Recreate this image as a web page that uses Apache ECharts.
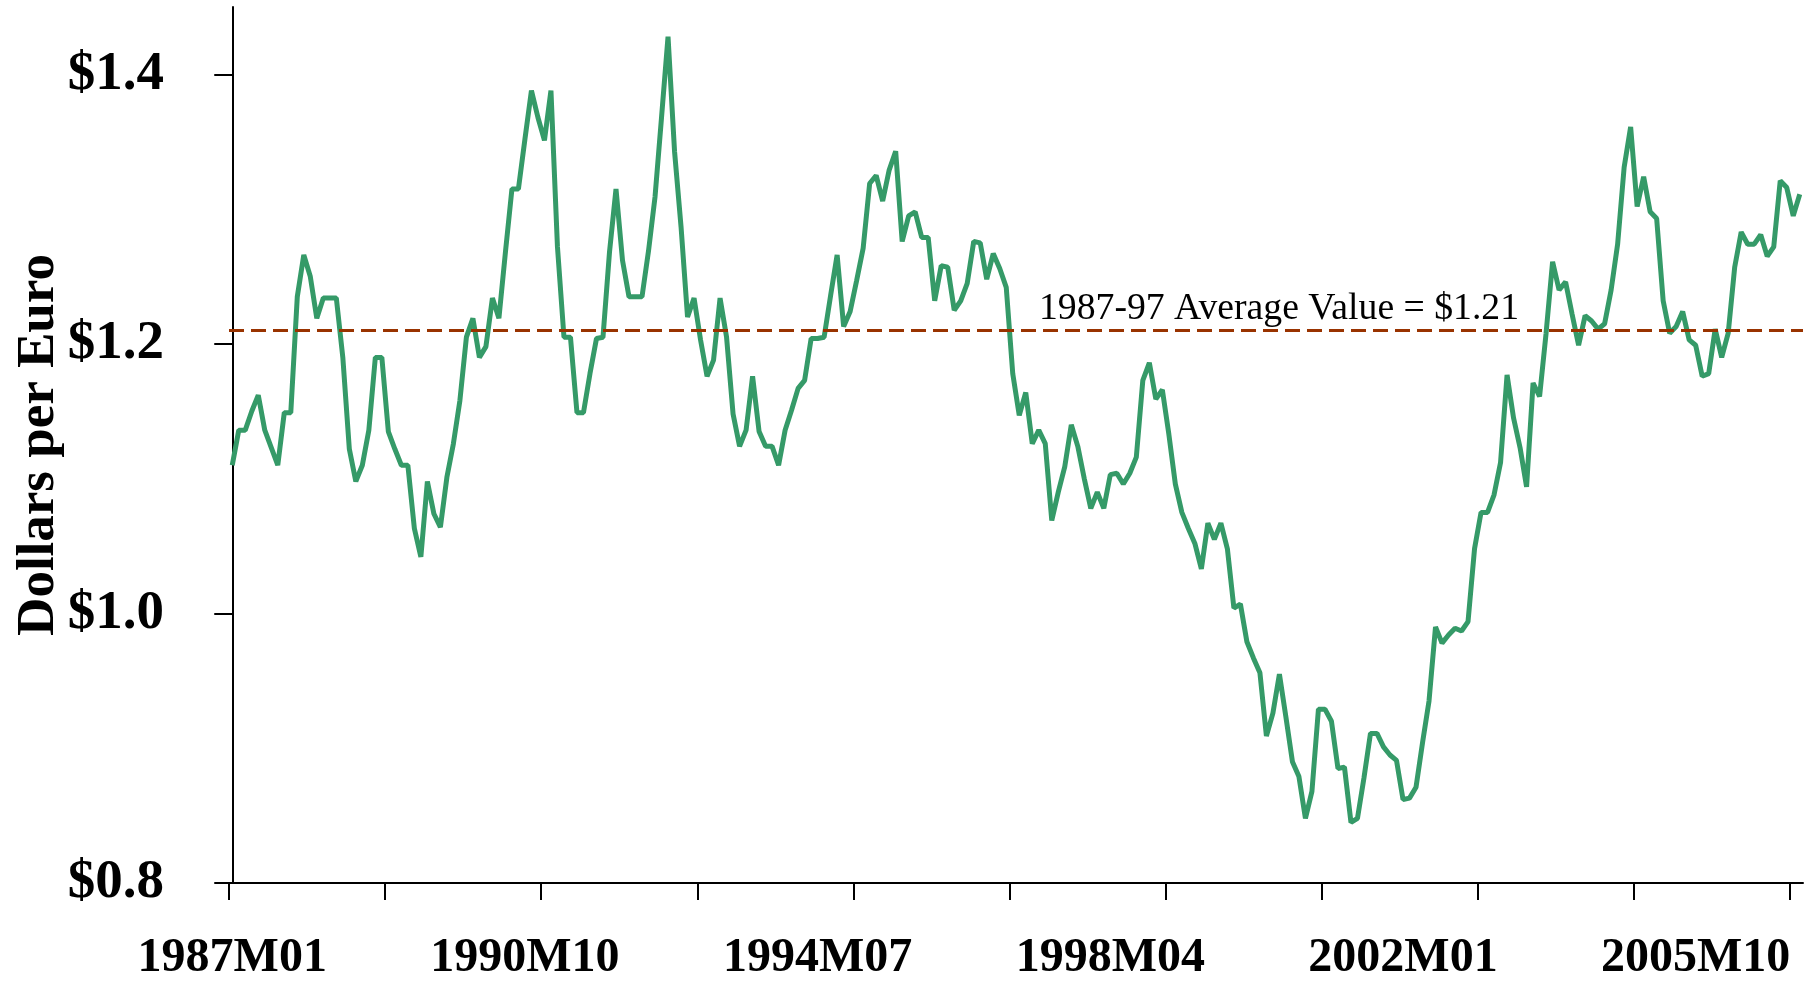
<!DOCTYPE html>
<html lang="en">
<head>
    <meta charset="UTF-8">
    <title>Dollars per Euro</title>
    <script src="https://cdn.jsdelivr.net/npm/echarts@6/dist/echarts.min.js"></script>
    <style>
        html, body { margin: 0; padding: 0; background: #fff; }
    </style>
</head>
<body>
<div id="chart" style="width: 1805px;height: 981px"></div>
<script>
    // monthly dollars per euro, 1987M01 .. 2007M02
    var rates = [
        1.110, 1.136, 1.136, 1.150, 1.162, 1.136, 1.123, 1.110, 1.149, 1.149, 1.235, 1.266,
        1.250, 1.219, 1.234, 1.234, 1.234, 1.190, 1.122, 1.098, 1.110, 1.136, 1.190, 1.190,
        1.135, 1.122, 1.110, 1.110, 1.063, 1.042, 1.098, 1.074, 1.064, 1.101, 1.126, 1.158,
        1.205, 1.219, 1.190, 1.198, 1.234, 1.219, 1.268, 1.315, 1.315, 1.352, 1.388, 1.368,
        1.351, 1.388, 1.272, 1.205, 1.205, 1.149, 1.149, 1.178, 1.204, 1.205, 1.268, 1.315,
        1.262, 1.235, 1.235, 1.235, 1.269, 1.309, 1.368, 1.428, 1.343, 1.287, 1.220, 1.234,
        1.203, 1.176, 1.188, 1.234, 1.205, 1.148, 1.124, 1.136, 1.176, 1.135, 1.124, 1.124,
        1.110, 1.136, 1.151, 1.167, 1.173, 1.204, 1.204, 1.205, 1.236, 1.266, 1.213, 1.224,
        1.247, 1.271, 1.319, 1.325, 1.306, 1.329, 1.343, 1.276, 1.295, 1.298, 1.279, 1.279,
        1.232, 1.258, 1.257, 1.225, 1.232, 1.245, 1.276, 1.275, 1.248, 1.267, 1.256, 1.242,
        1.178, 1.147, 1.164, 1.126, 1.136, 1.126, 1.069, 1.090, 1.109, 1.140, 1.124, 1.100,
        1.078, 1.090, 1.078, 1.103, 1.104, 1.096, 1.104, 1.116, 1.173, 1.186, 1.159, 1.166,
        1.133, 1.096, 1.075, 1.063, 1.052, 1.033, 1.067, 1.055, 1.067, 1.048, 1.004, 1.007,
        0.979, 0.967, 0.956, 0.909, 0.926, 0.955, 0.923, 0.890, 0.879, 0.848, 0.868, 0.929,
        0.929, 0.920, 0.885, 0.886, 0.845, 0.848, 0.878, 0.911, 0.911, 0.901, 0.895, 0.891,
        0.862, 0.863, 0.871, 0.904, 0.935, 0.990, 0.978, 0.984, 0.989, 0.987, 0.994, 1.048,
        1.075, 1.075, 1.088, 1.112, 1.177, 1.145, 1.123, 1.094, 1.171, 1.161, 1.208, 1.261,
        1.240, 1.246, 1.222, 1.199, 1.221, 1.217, 1.211, 1.215, 1.240, 1.274, 1.331, 1.361,
        1.302, 1.324, 1.298, 1.293, 1.232, 1.208, 1.213, 1.224, 1.203, 1.199, 1.176, 1.178,
        1.211, 1.190, 1.208, 1.257, 1.283, 1.274, 1.274, 1.281, 1.265, 1.272, 1.321, 1.316,
        1.295, 1.311
    ];
    var avgValue = 1.21;
    var avgText = '1987-97 Average Value = $1.21';
    var yTicks = [0.8, 1.0, 1.2, 1.4];
    var xLabels = ['1987M01', '1990M10', '1994M07', '1998M04', '2002M01', '2005M10'];
    var tickEvery = 24; // months between x ticks

    // month names 1987M01, 1987M02, ...
    var months = [];
    for (var i = 0; i < rates.length; i++) {
        var y = 1987 + Math.floor(i / 12), m = i % 12 + 1;
        months.push(y + 'M' + (m < 10 ? '0' + m : m));
    }
    var points = rates.map(function (v, i) { return [i, v]; });
    var labelIdx = xLabels.map(function (s) { return months.indexOf(s); });
    var tickPos = [];
    for (var t = 0; t <= rates.length - 2; t += tickEvery) tickPos.push(t - 0.5);

    var serif = '"Liberation Serif", "Times New Roman", serif';
    var chart = echarts.init(document.getElementById('chart'));
    var option = {
        animation: false,
        backgroundColor: '#fff',
        grid: {left: 229, right: 2, top: 7, bottom: 98, containLabel: false, outerBoundsMode: 'none'},
        xAxis: {
            type: 'value',
            min: -0.5,
            max: rates.length - 0.5,
            splitLine: {show: false},
            axisLine: {lineStyle: {color: '#000', width: 2}},
            axisTick: {customValues: tickPos, length: 17, lineStyle: {color: '#000', width: 2}},
            axisLabel: {
                customValues: labelIdx,
                formatter: function (v) { return months[Math.round(v)]; },
                margin: 52,
                color: '#000',
                fontFamily: serif,
                fontWeight: 'bold',
                fontSize: 48
            }
        },
        yAxis: {
            type: 'value',
            min: 0.8,
            max: 1.45,
            name: 'Dollars per Euro',
            nameLocation: 'middle',
            nameGap: 163,
            nameMoveOverlap: false,
            nameTextStyle: {color: '#000', fontFamily: serif, fontWeight: 'bold', fontSize: 53},
            splitLine: {show: false},
            axisLine: {show: true, lineStyle: {color: '#000', width: 2}},
            axisTick: {show: true, customValues: yTicks, length: 18, lineStyle: {color: '#000', width: 2}},
            axisLabel: {
                customValues: yTicks,
                formatter: function (v) { return '$' + v.toFixed(1); },
                margin: 65,
                color: '#000',
                fontFamily: serif,
                fontWeight: 'bold',
                fontSize: 55
            }
        },
        series: [{
            type: 'line',
            data: points,
            showSymbol: false,
            lineStyle: {color: '#359a68', width: 5},
            markLine: {
                silent: true,
                symbol: ['none', 'none'],
                lineStyle: {color: '#993300', type: [15, 7], width: 3},
                label: {
                    position: 'insideEndTop',
                    distance: [284, 2],
                    formatter: avgText,
                    color: '#000',
                    fontFamily: serif,
                    fontSize: 37.7
                },
                data: [{yAxis: avgValue}]
            }
        }]
    };
    chart.setOption(option);
</script>
</body>
</html>
